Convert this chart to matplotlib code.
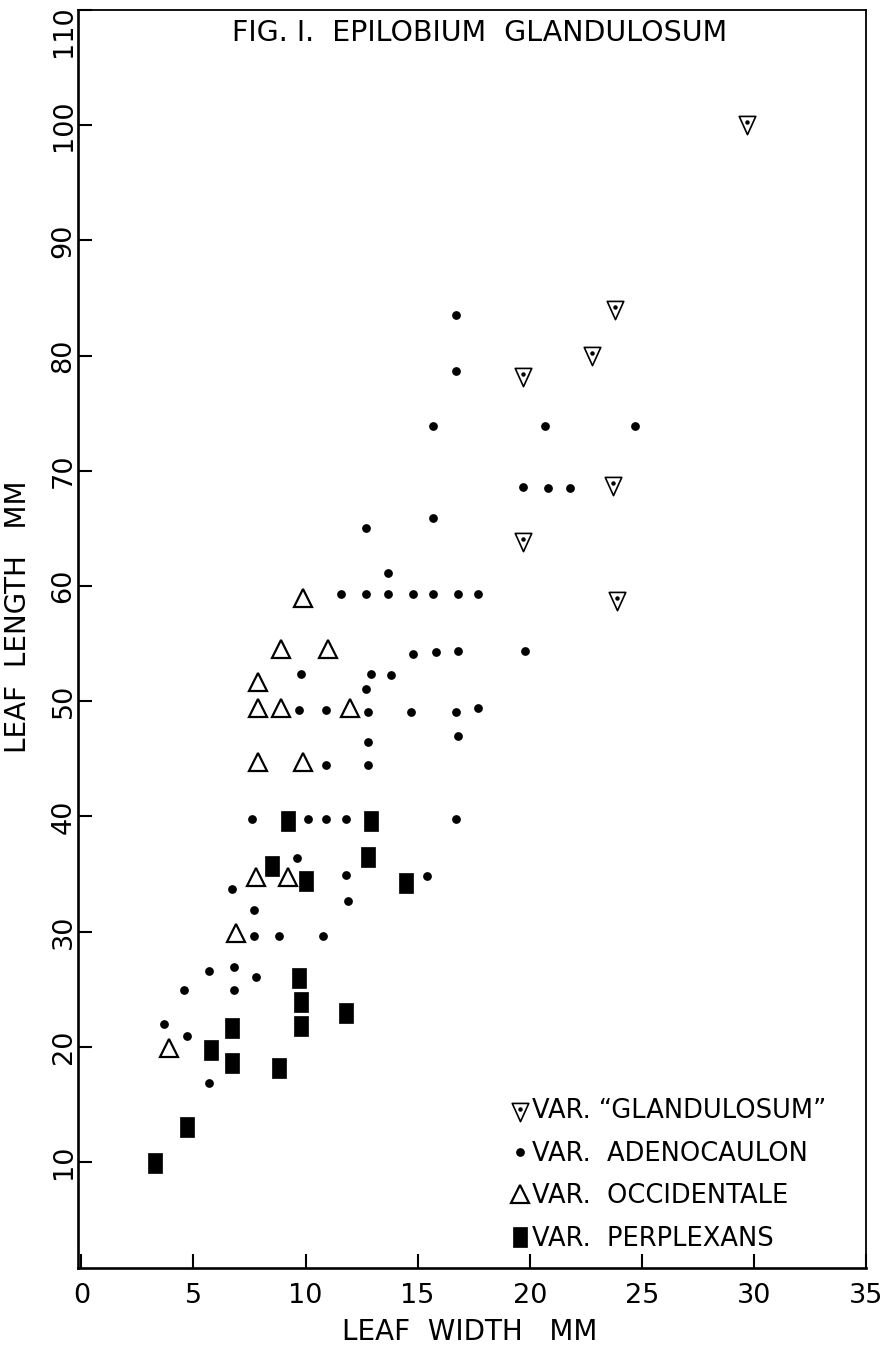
import numpy as np
import matplotlib
matplotlib.use("Agg")
import matplotlib.pyplot as plt
from matplotlib.path import Path
from matplotlib.transforms import ScaledTranslation

# --- Data (leaf width mm, leaf length mm) ---
glandulosum_width = [29.7, 23.8, 22.8, 19.7, 23.7, 19.7, 23.9]
glandulosum_length = [100.3, 84.2, 80.2, 78.4, 68.9, 64.1, 59.0]

adenocaulon_width = [16.7, 16.7, 15.7, 20.7, 24.7, 19.7, 20.8, 21.8, 15.7, 12.7, 13.7,
                     11.6, 12.7, 13.7, 14.8, 15.7, 16.8, 17.7,
                     19.8, 14.8, 15.8, 16.8,
                     9.8, 12.9, 13.8, 12.7,
                     9.7, 10.9, 12.8, 14.7, 16.7, 17.7,
                     16.8, 12.8, 10.9, 12.8,
                     7.6, 10.1, 10.9, 11.8, 16.7,
                     9.6, 11.8, 15.4, 11.9, 6.7, 7.7,
                     7.7, 8.8, 10.8,
                     5.7, 6.8, 7.8, 4.6, 6.8,
                     3.7, 4.7, 5.7]
adenocaulon_length = [83.5, 78.7, 73.9, 73.9, 73.9, 68.6, 68.5, 68.5, 65.9, 65.0, 61.1,
                      59.3, 59.3, 59.3, 59.3, 59.3, 59.3, 59.3,
                      54.4, 54.1, 54.3, 54.4,
                      52.4, 52.4, 52.3, 51.1,
                      49.2, 49.2, 49.1, 49.1, 49.1, 49.4,
                      47.0, 46.5, 44.5, 44.5,
                      39.8, 39.8, 39.8, 39.8, 39.8,
                      36.4, 34.9, 34.8, 32.7, 33.7, 31.9,
                      29.6, 29.6, 29.6,
                      26.6, 26.9, 26.1, 24.9, 24.9,
                      22.0, 20.9, 16.9]

occidentale_width = [9.9, 8.9, 11.0, 7.9, 7.9, 8.9, 12.0, 7.9, 9.9, 7.8, 9.2, 6.9, 3.9]
occidentale_length = [59.0, 54.5, 54.5, 51.7, 49.4, 49.4, 49.4, 44.7, 44.7, 34.7, 34.7, 29.9, 19.9]

perplexans_width = [9.2, 12.9, 12.8, 8.5, 10.0, 14.5, 9.7, 9.8, 9.8, 11.8, 6.7, 5.8, 6.7, 8.8, 4.7, 3.3]
perplexans_length = [39.6, 39.6, 36.5, 35.7, 34.4, 34.2, 26.0, 23.9, 21.8, 22.9, 21.6, 19.7, 18.6, 18.2, 13.0, 9.9]

x_ticks = [0, 5, 10, 15, 20, 25, 30, 35]
y_ticks = [10, 20, 30, 40, 50, 60, 70, 80, 90, 100, 110]

legend_labels = ["VAR. \u201cGLANDULOSUM\u201d", "VAR.  ADENOCAULON",
                 "VAR.  OCCIDENTALE", "VAR.  PERPLEXANS"]


def main():
    plt.rcParams["font.family"] = ["DejaVu Sans"]

    fig = plt.figure(figsize=(8.86, 13.51), dpi=100)
    ax = fig.add_axes([78 / 886, 1 - 1268 / 1351, (866 - 78) / 886, (1268 - 10) / 1351])

    # --- Markers: down triangle centred on its centroid, upright rectangle ---
    tri_down = Path([(-0.68, 0.5), (0.68, 0.5), (0.0, -1.0), (-0.68, 0.5)],
                    [Path.MOVETO, Path.LINETO, Path.LINETO, Path.CLOSEPOLY])
    rect = Path([(-0.75, -1), (0.75, -1), (0.75, 1), (-0.75, 1), (-0.75, -1)],
                [Path.MOVETO, Path.LINETO, Path.LINETO, Path.LINETO, Path.CLOSEPOLY])

    g_tri, = ax.plot(glandulosum_width, glandulosum_length, linestyle="none", marker=tri_down,
                     ms=17.5, mfc="white", mec="black", mew=1.2)
    g_dot, = ax.plot(glandulosum_width, glandulosum_length, linestyle="none", marker="o",
                     ms=2.2, mfc="black", mec="black")
    a_dot, = ax.plot(adenocaulon_width, adenocaulon_length, linestyle="none", marker="o",
                     ms=6.3, mfc="black", mec="black", mew=0)
    o_tri, = ax.plot(occidentale_width, occidentale_length, linestyle="none", marker="^",
                     ms=12.5, mfc="white", mec="black", mew=1.6)
    p_sq, = ax.plot(perplexans_width, perplexans_length, linestyle="none", marker=rect,
                    ms=14.2, mfc="black", mec="black", mew=0.5)

    # --- Axes ---
    ax.set_xlim(-0.15, 35.0)
    ax.set_ylim(0.8, 110)
    ax.set_xticks(x_ticks)
    ax.set_xticklabels([str(t) for t in x_ticks])
    ax.set_yticks(y_ticks)
    ax.set_yticklabels([str(t) for t in y_ticks], rotation=90, va="center")
    ax.tick_params(direction="in", length=10, width=1.5, labelsize=19.5, colors="black")
    ax.tick_params(axis="x", pad=11)
    ax.tick_params(axis="y", pad=1)
    # top label sits just below the corner
    top_label = ax.get_yticklabels()[-1]
    top_label.set_va("top")
    top_label.set_transform(top_label.get_transform()
                            + ScaledTranslation(0, 5 / 100, fig.dpi_scale_trans))
    for side in ["left", "bottom"]:
        ax.spines[side].set_linewidth(1.9)
    for side in ["top", "right"]:
        ax.spines[side].set_linewidth(1.3)

    ax.set_xlabel("LEAF  WIDTH   MM", fontsize=20, va="center")
    ax.xaxis.set_label_coords(0.497, -0.051)
    ax.set_ylabel("LEAF  LENGTH   MM", fontsize=20, va="center")
    ax.yaxis.set_label_coords(-0.076, 0.518)

    ax.text(0.51, 0.982, "FIG. I.  EPILOBIUM  GLANDULOSUM", transform=ax.transAxes,
            ha="center", va="center", fontsize=20.5)

    ax.legend([(g_tri, g_dot), a_dot, o_tri, p_sq], legend_labels,
              loc="lower left", bbox_to_anchor=(0.5457, 0.013), frameon=False,
              fontsize=18.5, handlelength=0.9, handletextpad=0.05, labelspacing=0.64,
              borderpad=0, borderaxespad=0)

    fig.savefig("out.png", dpi=100)


if __name__ == "__main__":
    main()
